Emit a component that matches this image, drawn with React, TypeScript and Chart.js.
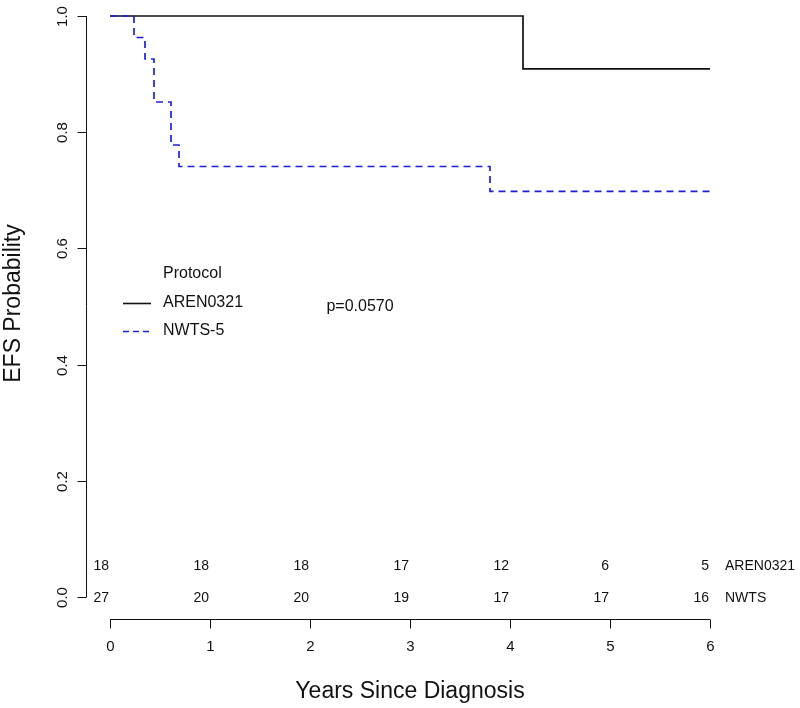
import React, { useEffect, useRef } from "react";
import { Chart, registerables } from "chart.js";

Chart.register(...registerables);

// ---- data ----
const timeTicks = [0, 1, 2, 3, 4, 5, 6];
const probTicks = [0, 0.2, 0.4, 0.6, 0.8, 1.0];
const probTickLabels = ["0.0", "0.2", "0.4", "0.6", "0.8", "1.0"];

const seriesNames = ["AREN0321", "NWTS-5"];
const arenTimes = [0, 4.13, 6];
const arenSurv = [1, 0.909, 0.909];
const nwtsTimes = [0, 0.24, 0.35, 0.44, 0.61, 0.69, 3.8, 6];
const nwtsSurv = [1, 0.963, 0.926, 0.852, 0.778, 0.741, 0.698, 0.698];

const atRiskNames = ["AREN0321", "NWTS"];
const atRiskAren = [18, 18, 18, 17, 12, 6, 5];
const atRiskNwts = [27, 20, 20, 19, 17, 17, 16];
const atRiskRowY = [0.055, 0.0];

const legendTitle = "Protocol";
const pValueText = "p=0.0570";
const pValuePos = [2.5, 0.5];
const xTitle = "Years Since Diagnosis";
const yTitle = "EFS Probability";

const FONT = "'Liberation Sans', Arial, Helvetica, sans-serif";
const BLUE = "#2020d8";
const BLACK = "#111111";

const drawPlugin = {
  id: "rbase",
  afterDraw(chart: any) {
    const ctx = chart.ctx;
    const xs = chart.scales.x;
    const ys = chart.scales.y;
    ctx.save();
    ctx.fillStyle = BLACK;
    ctx.strokeStyle = BLACK;
    ctx.lineWidth = 1;
    ctx.setLineDash([]);

    // y axis
    const axX = Math.round(xs.getPixelForValue(-0.24)) + 0.5;
    ctx.beginPath();
    ctx.moveTo(axX, ys.getPixelForValue(1));
    ctx.lineTo(axX, ys.getPixelForValue(0));
    ctx.stroke();
    ctx.font = `15px ${FONT}`;
    ctx.textAlign = "center";
    ctx.textBaseline = "middle";
    probTicks.forEach((v, i) => {
      const y = Math.round(ys.getPixelForValue(v)) + 0.5;
      ctx.beginPath();
      ctx.moveTo(axX, y);
      ctx.lineTo(axX - 9, y);
      ctx.stroke();
      ctx.save();
      ctx.translate(axX - 24, y);
      ctx.rotate(-Math.PI / 2);
      ctx.fillText(probTickLabels[i], 0, 0);
      ctx.restore();
    });

    // x axis
    const axY = Math.round(ys.getPixelForValue(-0.04)) - 0.5;
    ctx.beginPath();
    ctx.moveTo(xs.getPixelForValue(0), axY);
    ctx.lineTo(xs.getPixelForValue(6), axY);
    ctx.stroke();
    timeTicks.forEach((v) => {
      const x = Math.round(xs.getPixelForValue(v)) + 0.5;
      ctx.beginPath();
      ctx.moveTo(x, axY);
      ctx.lineTo(x, axY + 9);
      ctx.stroke();
      ctx.fillText(String(v), x, axY + 27);
    });

    // axis titles
    ctx.font = `23px ${FONT}`;
    const xMid = (xs.getPixelForValue(-0.24) + xs.getPixelForValue(6.24)) / 2;
    ctx.fillText(xTitle, xMid, axY + 72);
    const yMid = (ys.getPixelForValue(-0.04) + ys.getPixelForValue(1.04)) / 2;
    ctx.save();
    ctx.translate(14, yMid - 3);
    ctx.rotate(-Math.PI / 2);
    ctx.fillText(yTitle, 0, 0);
    ctx.restore();

    // numbers at risk
    ctx.font = `14px ${FONT}`;
    ctx.textAlign = "right";
    const rows = [atRiskAren, atRiskNwts];
    rows.forEach((row, r) => {
      const y = ys.getPixelForValue(atRiskRowY[r]) + 1;
      row.forEach((n, i) => {
        ctx.fillText(String(n), xs.getPixelForValue(timeTicks[i]) - 1, y);
      });
    });
    ctx.textAlign = "left";
    rows.forEach((_, r) => {
      const y = ys.getPixelForValue(atRiskRowY[r]) + 1;
      ctx.fillText(atRiskNames[r], xs.getPixelForValue(6) + 15, y);
    });

    // p-value
    ctx.font = `16px ${FONT}`;
    ctx.textAlign = "center";
    ctx.fillText(pValueText, xs.getPixelForValue(pValuePos[0]), ys.getPixelForValue(pValuePos[1]));

    // legend
    ctx.textAlign = "left";
    ctx.fillText(legendTitle, 163, 274);
    ctx.fillText(seriesNames[0], 163, 303);
    ctx.fillText(seriesNames[1], 163, 331);
    ctx.lineWidth = 1.6;
    ctx.strokeStyle = BLACK;
    ctx.beginPath();
    ctx.moveTo(123, 303.5);
    ctx.lineTo(151, 303.5);
    ctx.stroke();
    ctx.strokeStyle = BLUE;
    ctx.setLineDash([6, 4]);
    ctx.beginPath();
    ctx.moveTo(123, 331.5);
    ctx.lineTo(151, 331.5);
    ctx.stroke();
    ctx.restore();
  },
};

export default function App() {
  const ref = useRef<HTMLCanvasElement | null>(null);
  useEffect(() => {
    if (!ref.current) return;
    const chart = new Chart(ref.current, {
      type: "line",
      data: {
        datasets: [
          {
            label: seriesNames[1],
            data: nwtsTimes.map((t, i) => ({ x: t, y: nwtsSurv[i] })),
            borderColor: BLUE,
            borderWidth: 1.7,
            borderDash: [7, 5],
            pointRadius: 0,
            stepped: "before",
            fill: false,
            clip: false as any,
          },
          {
            label: seriesNames[0],
            data: arenTimes.map((t, i) => ({ x: t, y: arenSurv[i] })),
            borderColor: BLACK,
            borderWidth: 1.7,
            pointRadius: 0,
            stepped: "before",
            fill: false,
            clip: false as any,
          },
        ],
      },
      options: {
        responsive: false,
        animation: false,
        devicePixelRatio: 1,
        layout: { padding: { left: 110, right: 90, top: 16, bottom: 111 } },
        scales: {
          x: { type: "linear", min: 0, max: 6, display: false },
          y: { type: "linear", min: 0, max: 1, display: false },
        },
        plugins: { legend: { display: false }, tooltip: { enabled: false } },
      },
      plugins: [drawPlugin],
    });
    return () => chart.destroy();
  }, []);
  return (
    <div style={{ position: "absolute", left: 0, top: 0, width: 800, height: 708, background: "#fff" }}>
      <canvas ref={ref} width={800} height={708} style={{ display: "block" }} />
    </div>
  );
}
